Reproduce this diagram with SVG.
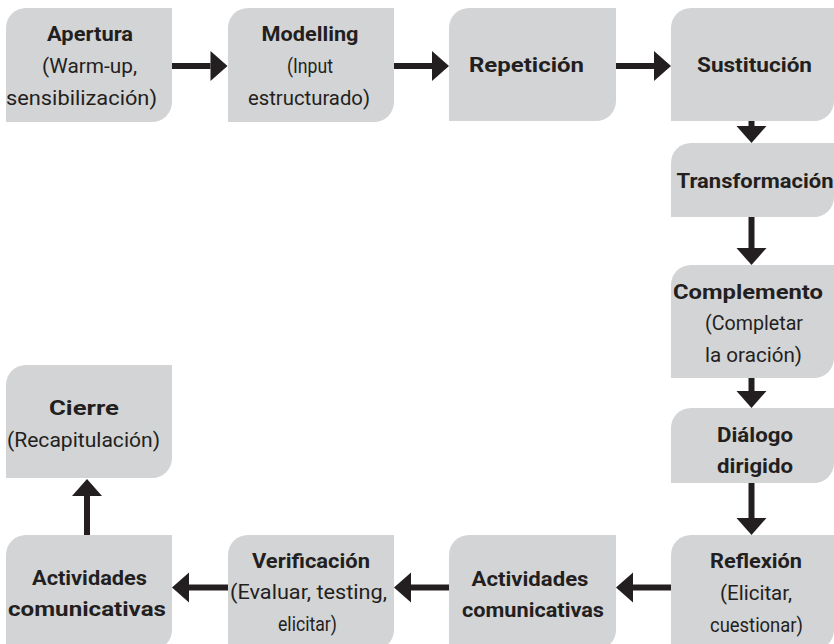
<svg xmlns="http://www.w3.org/2000/svg" width="834" height="644" viewBox="0 0 834 644">
<style>
.box{fill:#d3d4d6}
text{font-family:Roboto,"Liberation Sans",sans-serif;font-size:21px;fill:#231f20;text-anchor:middle}
.b{font-weight:bold}
.conn path{stroke:#231f20;stroke-width:6;fill:none;marker-end:url(#ah)}
</style>
<defs>
<marker id="ah" markerUnits="userSpaceOnUse" markerWidth="17" markerHeight="30" refX="0" refY="15" orient="auto" overflow="visible">
<path d="M0,0 L17,15 L0,30 Z" fill="#231f20"/>
</marker>
</defs>
<rect width="834" height="644" fill="#ffffff"/>
<g id="n1"><path class="box" d="M26,8 H172 V102 A20,20 0 0 1 152,122 H6 V28 A20,20 0 0 1 26,8 Z"/>
<text class="b" x="90" y="41" textLength="86" lengthAdjust="spacingAndGlyphs">Apertura</text>
<text x="89.5" y="72.5" textLength="95" lengthAdjust="spacingAndGlyphs">(Warm-up,</text>
<text x="81.5" y="104.5" textLength="151" lengthAdjust="spacingAndGlyphs">sensibilización)</text></g>
<g id="n2"><path class="box" d="M248,8 H394 V102 A20,20 0 0 1 374,122 H228 V28 A20,20 0 0 1 248,8 Z"/>
<text class="b" x="310" y="41" textLength="97" lengthAdjust="spacingAndGlyphs">Modelling</text>
<text x="310" y="72.5" textLength="46" lengthAdjust="spacingAndGlyphs">(Input</text>
<text x="309" y="104.5" textLength="122" lengthAdjust="spacingAndGlyphs">estructurado)</text></g>
<g id="n3"><path class="box" d="M469,8 H616 V101 A20,20 0 0 1 596,121 H449 V28 A20,20 0 0 1 469,8 Z"/>
<text class="b" x="526.5" y="72" textLength="115" lengthAdjust="spacingAndGlyphs">Repetición</text></g>
<g id="n4"><path class="box" d="M691,8 H834 V101 A20,20 0 0 1 814,121 H671 V28 A20,20 0 0 1 691,8 Z"/>
<text class="b" x="754.5" y="72" textLength="115" lengthAdjust="spacingAndGlyphs">Sustitución</text></g>
<g id="n5"><path class="box" d="M691,143 H834 V197 A20,20 0 0 1 814,217 H671 V163 A20,20 0 0 1 691,143 Z"/>
<text class="b" x="755" y="188" textLength="157" lengthAdjust="spacingAndGlyphs">Transformación</text></g>
<g id="n6"><path class="box" d="M691,265 H834 V358 A20,20 0 0 1 814,378 H671 V285 A20,20 0 0 1 691,265 Z"/>
<text class="b" x="748" y="298.5" textLength="150" lengthAdjust="spacingAndGlyphs">Complemento</text>
<text x="754" y="330" textLength="98" lengthAdjust="spacingAndGlyphs">(Completar</text>
<text x="753.5" y="361.5" textLength="97" lengthAdjust="spacingAndGlyphs">la oración)</text></g>
<g id="n7"><path class="box" d="M691,408 H834 V463 A20,20 0 0 1 814,483 H671 V428 A20,20 0 0 1 691,408 Z"/>
<text class="b" x="755" y="442" textLength="76" lengthAdjust="spacingAndGlyphs">Diálogo</text>
<text class="b" x="755" y="473" textLength="76" lengthAdjust="spacingAndGlyphs">dirigido</text></g>
<g id="n8"><path class="box" d="M691,535 H834 V630 A20,20 0 0 1 814,650 H671 V555 A20,20 0 0 1 691,535 Z"/>
<text class="b" x="756" y="568" textLength="92" lengthAdjust="spacingAndGlyphs">Reflexión</text>
<text x="756" y="600" textLength="72" lengthAdjust="spacingAndGlyphs">(Elicitar,</text>
<text x="756.5" y="632" textLength="93" lengthAdjust="spacingAndGlyphs">cuestionar)</text></g>
<g id="n9"><path class="box" d="M469,535 H616 V630 A20,20 0 0 1 596,650 H449 V555 A20,20 0 0 1 469,535 Z"/>
<text class="b" x="530" y="586" textLength="117" lengthAdjust="spacingAndGlyphs">Actividades</text>
<text class="b" x="533" y="617" textLength="142" lengthAdjust="spacingAndGlyphs">comunicativas</text></g>
<g id="n10"><path class="box" d="M248,535 H394 V630 A20,20 0 0 1 374,650 H228 V555 A20,20 0 0 1 248,535 Z"/>
<text class="b" x="311" y="568" textLength="118" lengthAdjust="spacingAndGlyphs">Verificación</text>
<text x="308.5" y="599" textLength="157" lengthAdjust="spacingAndGlyphs">(Evaluar, testing,</text>
<text x="307.5" y="630.5" textLength="59" lengthAdjust="spacingAndGlyphs">elicitar)</text></g>
<g id="n11"><path class="box" d="M26,535 H172 V630 A20,20 0 0 1 152,650 H6 V555 A20,20 0 0 1 26,535 Z"/>
<text class="b" x="89.5" y="584.5" textLength="115" lengthAdjust="spacingAndGlyphs">Actividades</text>
<text class="b" x="87" y="616" textLength="158" lengthAdjust="spacingAndGlyphs">comunicativas</text></g>
<g id="n12"><path class="box" d="M26,365 H172 V458 A20,20 0 0 1 152,478 H6 V385 A20,20 0 0 1 26,365 Z"/>
<text class="b" x="84" y="415" textLength="70" lengthAdjust="spacingAndGlyphs">Cierre</text>
<text x="83.5" y="446.5" textLength="153" lengthAdjust="spacingAndGlyphs">(Recapitulación)</text></g>
<g id="connectors" class="conn">
<path d="M172,66 H210.5"/>
<path d="M394,66 H432"/>
<path d="M616,66 H654"/>
<path d="M751.5,121 V126"/>
<path d="M751.5,217 V248"/>
<path d="M751.5,378 V391"/>
<path d="M751.5,483 V518"/>
<path d="M671,587.5 H633"/>
<path d="M449,587.5 H411"/>
<path d="M228,587.5 H189"/>
<path d="M87,535 V496"/>
</g>
</svg>
